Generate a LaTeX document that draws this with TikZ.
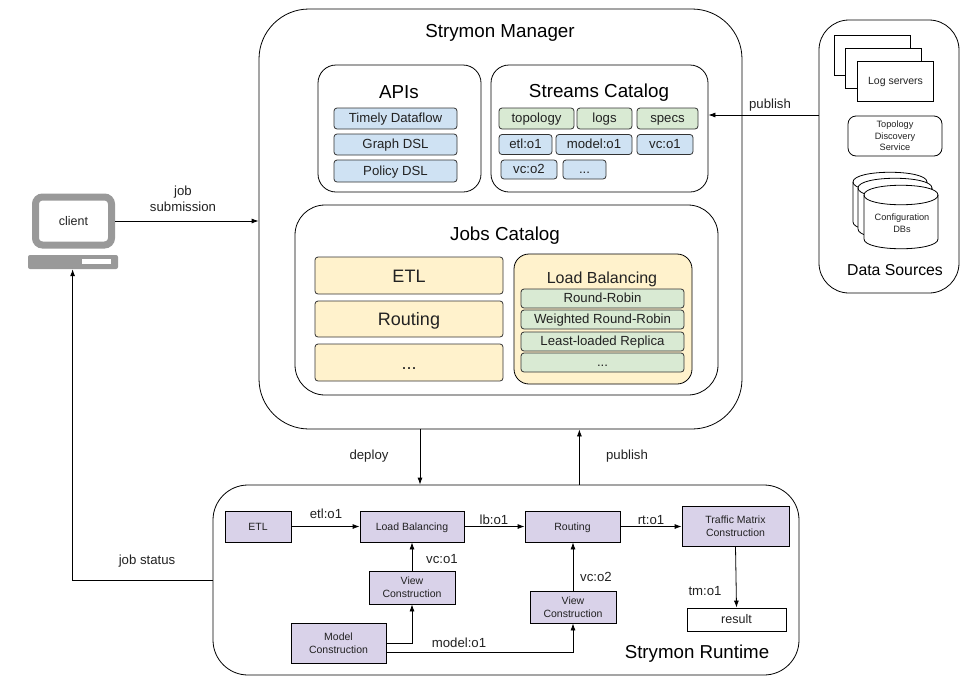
\documentclass[tikz,border=0pt]{standalone}
\usepackage{fontspec}
\setmainfont{Liberation Sans}
\usetikzlibrary{arrows.meta,positioning,calc}
\definecolor{apiblue}{HTML}{CFE2F3}
\definecolor{catgreen}{HTML}{D9EAD3}
\definecolor{jobyellow}{HTML}{FFF2CC}
\definecolor{oppurple}{HTML}{D9D2E9}
\definecolor{clientgray}{HTML}{999999}
\definecolor{inkdark}{HTML}{222222}
\newcommand{\fs}[1]{\fontsize{#1}{22}\selectfont}
\tikzset{
  panel/.style={draw=black,line width=0.8pt,fill=white,rounded corners=#1,inner sep=0pt},
  chip/.style={draw=black!80,line width=0.8pt,rounded corners=3pt,inner sep=0pt,text=inkdark,text height=10pt,text depth=2pt,font=\fontsize{13.2}{15}\selectfont},
  bigchip/.style={chip,fill=jobyellow,minimum width=188pt,text height=13pt,text depth=0pt,font=\fs{18}},
  opbox/.style={draw=black,line width=0.8pt,fill=oppurple,inner sep=0pt,align=center,text=inkdark,text depth=0pt,font=\fontsize{10.5}{13}\selectfont},
  tag/.style={inner sep=0pt,align=center,text=inkdark,font=\fontsize{13.2}{16}\selectfont},
  heading/.style={inner sep=0pt,text=black,font=\fontsize{18.8}{22}\selectfont},
  smalltext/.style={inner sep=0pt,align=center,text=inkdark,font=\fontsize{9.2}{11.5}\selectfont},
  link/.style={draw=black,line width=0.8pt,-{Latex[length=7pt,width=5pt]}},
}
\begin{document}
\begin{tikzpicture}[x=1pt,y=-1pt]
  \useasboundingbox (0,0) rectangle (972,686);
  \fill[white] (0,0) rectangle (972,686);

  % Manager
  \node[panel=50pt,minimum width=483pt,minimum height=420pt] (manager) at (500.5,219) {};
  \node[heading] (managertitle) at (500,32.5) {Strymon Manager};

  % APIs
  \node[panel=18pt,minimum width=163pt,minimum height=127pt] (apis) at (399.5,128.5) {};
  \node[heading] (apistitle) at (399,92.5) {APIs};
  \node[chip,fill=apiblue,minimum width=123pt,minimum height=21pt] (timely) at (395.5,118.5) {Timely Dataflow};
  \node[chip,fill=apiblue,minimum width=123pt,minimum height=21pt] (graph) at (395.5,144.5) {Graph DSL};
  \node[chip,fill=apiblue,minimum width=123pt,minimum height=22pt] (policy) at (395.5,171) {Policy DSL};

  % Streams catalog
  \node[panel=18pt,minimum width=217pt,minimum height=127pt] (streams) at (599.5,128.5) {};
  \node[heading] (streamstitle) at (599,92.5) {Streams Catalog};
  \node[chip,fill=catgreen,minimum width=75pt,minimum height=21pt] (topology) at (536.5,118.5) {topology};
  \node[chip,fill=catgreen,minimum width=55pt,minimum height=21pt] (logs) at (604.5,118.5) {logs};
  \node[chip,fill=catgreen,minimum width=61pt,minimum height=21pt] (specs) at (667.5,118.5) {specs};
  \node[chip,fill=apiblue,minimum width=53pt,minimum height=20pt] (etlo) at (525.5,144.5) {etl:o1};
  \node[chip,fill=apiblue,minimum width=76pt,minimum height=20pt] (modelo) at (594,144.5) {model:o1};
  \node[chip,fill=apiblue,minimum width=56pt,minimum height=20pt] (vco) at (665,144.5) {vc:o1};
  \node[chip,fill=apiblue,minimum width=56pt,minimum height=19pt] (vct) at (529,169.5) {vc:o2};
  \node[chip,fill=apiblue,minimum width=43pt,minimum height=19pt] (streamsmore) at (584.5,169.5) {...};

  % Jobs catalog
  \node[panel=30pt,minimum width=423pt,minimum height=190pt] (jobs) at (506.5,300) {};
  \node[heading] (jobstitle) at (505,235.5) {Jobs Catalog};
  \node[bigchip,minimum height=37pt] (etljob) at (409,275.5) {ETL};
  \node[bigchip,minimum height=36pt] (routingjob) at (409,319) {Routing};
  \node[bigchip,minimum height=37pt] (morejob) at (409,362.5) {...};
  \node[draw=black,line width=0.8pt,fill=jobyellow,rounded corners=15pt,inner sep=0pt,minimum width=178pt,minimum height=130pt] (lbjob) at (603,319) {};
  \node[inner sep=0pt,font=\fs{16},text=inkdark] (lbtitle) at (602,279.5) {Load Balancing};
  \node[chip,fill=catgreen,minimum width=163pt,minimum height=19pt] (roundrobin) at (602.5,298.5) {Round-Robin};
  \node[chip,fill=catgreen,minimum width=163pt,minimum height=19pt] (weighted) at (602.5,319.5) {Weighted Round-Robin};
  \node[chip,fill=catgreen,minimum width=163pt,minimum height=19pt] (leastloaded) at (602.5,341.5) {Least-loaded Replica};
  \node[chip,fill=catgreen,minimum width=163pt,minimum height=19pt] (lbmore) at (602.5,362.5) {...};

  % Data sources
  \node[panel=30pt,minimum width=140pt,minimum height=273pt] (sources) at (889,156.5) {};
  \node[draw=black,line width=0.8pt,fill=white,inner sep=0pt,minimum width=76pt,minimum height=40pt] (logone) at (872,55) {};
  \node[draw=black,line width=0.8pt,fill=white,inner sep=0pt,minimum width=76pt,minimum height=40pt] (logtwo) at (883.5,68) {};
  \node[draw=black,line width=0.8pt,fill=white,inner sep=0pt,minimum width=76pt,minimum height=40pt,font=\fs{10.5},text=inkdark] (logthree) at (895.5,81.5) {Log servers};
  \node[draw=black,line width=0.8pt,fill=white,rounded corners=8pt,inner sep=0pt,minimum width=94pt,minimum height=40pt,smalltext] (topo) at (895,136) {Topology\\Discovery\\Service};
  \foreach \cx/\ytop/\ybot in {890/182/232,895/188/239,901/195/249}{
    \draw[line width=0.8pt,fill=white] (\cx-37,\ytop) .. controls (\cx-37,\ytop-13) and (\cx+37,\ytop-13) .. (\cx+37,\ytop) -- (\cx+37,\ybot-10) .. controls (\cx+37,\ybot+3) and (\cx-37,\ybot+3) .. (\cx-37,\ybot-10) -- cycle;
    \draw[line width=0.8pt] (\cx-37,\ytop) .. controls (\cx-37,\ytop+13) and (\cx+37,\ytop+13) .. (\cx+37,\ytop);
  }
  \node[smalltext] (configdb) at (902,223) {Configuration\\DBs};
  \node[inner sep=0pt,font=\fs{15.8},text=black] (sourcestitle) at (895,270) {Data Sources};
  \draw[link] (sources.west |- 0,115) -- (streams.east |- 0,115);
  \node[tag] (publishsrc) at (770,105) {publish};

  % Client
  \node[draw=clientgray,line width=7pt,rounded corners=7pt,inner sep=0pt,fill=white,minimum width=76pt,minimum height=48pt,font=\fs{12.5},text=inkdark] (client) at (73.5,221) {client};
  \node[fill=clientgray,rounded corners=2pt,inner sep=0pt,minimum width=90pt,minimum height=14pt] (keyboard) at (73,262) {};
  \node[fill=white,inner sep=0pt,minimum width=29pt,minimum height=5pt] (slot) at (96.5,261) {};
  \draw[link] (client.east) -- (manager.west |- client.east);
  \node[tag] (submission) at (183,198.5) {job\\submission};

  % Runtime
  \node[panel=35pt,minimum width=586pt,minimum height=190pt] (runtime) at (506,580) {};
  \node[inner sep=0pt,font=\fs{18.7},text=black] (runtimetitle) at (697,653.5) {Strymon Runtime};
  \node[opbox,minimum width=66pt,minimum height=31pt] (etl) at (258,526.5) {ETL};
  \node[opbox,minimum width=104pt,minimum height=31pt] (lb) at (412,526.5) {Load Balancing};
  \node[opbox,minimum width=95pt,minimum height=31pt] (routing) at (572.5,526.5) {Routing};
  \node[opbox,minimum width=107pt,minimum height=40pt] (traffic) at (735.5,526) {Traffic Matrix\\Construction};
  \node[draw=black,line width=0.8pt,fill=white,inner sep=0pt,minimum width=99pt,minimum height=23pt,font=\fs{12.5},text=inkdark] (result) at (736.5,619.5) {result};
  \node[opbox,minimum width=86pt,minimum height=33pt] (viewone) at (412,587.5) {View\\Construction};
  \node[opbox,minimum width=86pt,minimum height=32pt] (viewtwo) at (573,607) {View\\Construction};
  \node[opbox,minimum width=95pt,minimum height=40pt] (model) at (338.5,643) {Model\\Construction};

  \draw[link] (etl) -- (lb);
  \draw[link] (lb) -- (routing);
  \draw[link] (routing) -- (routing -| traffic.west);
  \draw[link] (traffic.south) -- (result.north);
  \draw[link] (viewone) -- (lb);
  \draw[link] (viewtwo.north) -- (routing.south -| viewtwo.north);
  \draw[link] (model.east) -| (viewone.south);
  \draw[link] ([yshift=-9pt]model.east) -| (viewtwo.south);
  \node[tag] (etllabel) at (326,514) {etl:o1};
  \node[tag] (lblabel) at (494,520) {lb:o1};
  \node[tag] (rtlabel) at (651,520) {rt:o1};
  \node[tag] (tmlabel) at (705,591) {tm:o1};
  \node[tag] (vconelabel) at (442,559) {vc:o1};
  \node[tag] (vctwolabel) at (596,577) {vc:o2};
  \node[tag] (modellabel) at (459,643) {model:o1};

  % Between manager, runtime and client
  \coordinate (deploytop) at (420,429);
  \draw[link] (deploytop) -- (runtime.north -| deploytop);
  \draw[link] (runtime.north -| viewtwo.east) ++(-37,0) coordinate (pubstart) -- (pubstart |- manager.south);
  \node[tag] (deploylabel) at (369,456) {deploy};
  \node[tag] (publishlabel) at (627,456) {publish};
  \draw[link] (runtime.west) -- ++(-140,0) coordinate (statuscorner) -- (statuscorner |- keyboard.south);
  \node[tag] (statuslabel) at (147,561) {job status};
\end{tikzpicture}
\end{document}
